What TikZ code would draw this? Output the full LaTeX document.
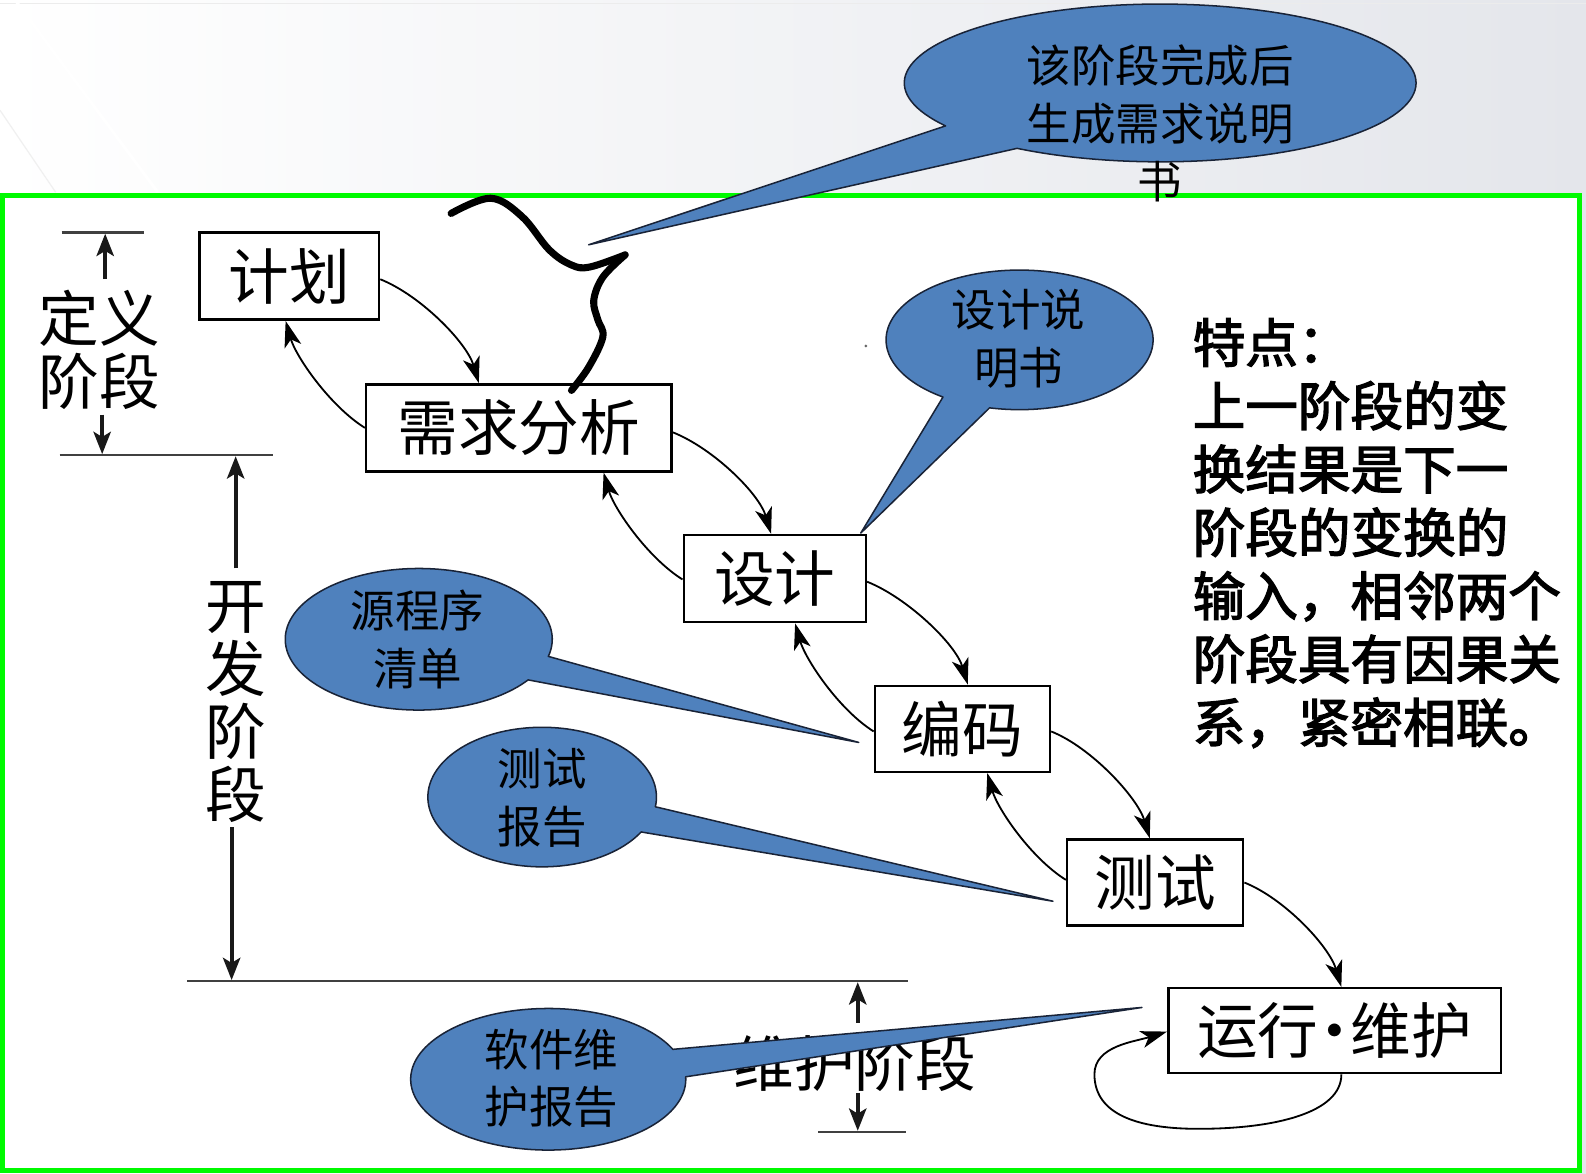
\documentclass[tikz,border=0pt]{standalone}
\usepackage{fontspec}
\setmainfont{Noto Sans CJK SC}
\newfontfamily\cjkbold[FakeBold=2.5]{Noto Sans CJK SC}
\usetikzlibrary{arrows.meta,calc}
\definecolor{calloutblue}{RGB}{79,129,189}
\definecolor{calloutedge}{RGB}{25,35,55}
\definecolor{framegreen}{RGB}{0,250,0}
\definecolor{bgright}{RGB}{228,230,235}
% cx cy rx ry start end tipx tipy
\newcommand{\mycallout}[8]{%
  \filldraw[calloutshape] (#7,#8) -- plot[domain=#5:#6, samples=140, variable=\t] ({#1+#3*cos(\t)},{#2+#4*sin(\t)}) -- cycle;}
\tikzset{
  stagebox/.style={draw=black, line width=2.5pt, fill=white, inner sep=0pt, font=\fontsize{60}{66}\selectfont},
  flow/.style={line width=1.8pt, -{Stealth[length=26pt,width=17pt,inset=7pt]}},
  dimarrow/.style={line width=4pt, draw=black!90, -{Stealth[length=22pt,width=17pt,inset=5pt]}},
  dimline/.style={line width=2.4pt, draw=black!75},
  calloutshape/.style={fill=calloutblue, draw=calloutedge, line width=1.5pt, line join=round},
  callouttext/.style={align=center, inner sep=0pt, font=\fontsize{44}{57}\selectfont},
  stagetext/.style={align=center, inner sep=0pt, font=\fontsize{60}{62}\selectfont},
}
\begin{document}
\begin{tikzpicture}[x=1pt, y=-1pt]
\useasboundingbox (0,0) rectangle (1568,1160);
% background
\shade[left color=white, right color=bgright] (0,0) rectangle (1568,1160);
\draw[gray!15, line width=1pt] (0,3) -- (1568,3);
\draw[white, line width=3pt] (15,0) -- (156,190);
\draw[gray!12, line width=1.2pt] (0,109) -- (55,190);
\fill[white] (2,193) rectangle (1562,1157);
\draw[framegreen, line width=5pt] (2.5,193) rectangle (1562,1157);

% dimension marks
\draw[dimline] (61,230) -- (142,230);
\draw[dimline] (59,450) -- (270,450);
\draw[dimline] (185,970) -- (898,970);
\draw[dimline] (809,1119) -- (896,1119);
\coordinate (d1a) at (104,276); \coordinate (d1b) at (104,231);
\coordinate (d1c) at (101,410); \coordinate (d1d) at (101,449);
\coordinate (d2a) at (233,562); \coordinate (d2b) at (233,451);
\coordinate (d2c) at (229,818); \coordinate (d2d) at (229,969);
\coordinate (d3a) at (848,1011); \coordinate (d3b) at (848,971);
\coordinate (d3c) at (848,1081); \coordinate (d3d) at (848,1118);
\draw[dimarrow] (d1a) -- (d1b);
\draw[dimarrow] (d1c) -- (d1d);
\draw[dimarrow] (d2a) -- (d2b);
\draw[dimarrow] (d2c) -- (d2d);
\draw[dimarrow] (d3a) -- (d3b);
\draw[dimarrow] (d3c) -- (d3d);
\node[stagetext] (dingyi) at (98,346) {定义\\阶段};
\node[stagetext] (kaifa) at (233,694) {开\\发\\阶\\段};
\node[stagetext] (weihu) at (845,1051) {维护阶段};

% stage boxes
\node[stagebox, minimum width=177.5pt, minimum height=86pt] (jh) at (286,273) {计划};
\node[stagebox, minimum width=302pt, minimum height=86pt] (xq) at (513,423) {需求分析};
\node[stagebox, minimum width=180pt, minimum height=86pt] (sj) at (766,572) {设计};
\node[stagebox, minimum width=173pt, minimum height=85pt] (bm) at (951.5,720.5) {编码};
\node[stagebox, minimum width=174pt, minimum height=85pt] (cs) at (1142,872.5) {测试};
\node[stagebox, minimum width=329pt, minimum height=84pt] (yx) at (1319.5,1019) {运行\kern-14pt·\kern-14pt维护};

% forward arrows
\draw[flow] ($(jh.north east)!0.535!(jh.south east)$) .. controls +(40,16) and +(-12,-40) .. ($(xq.north west)!0.37!(xq.north east)$);
\draw[flow] ($(xq.north east)!0.55!(xq.south east)$) .. controls +(40,16) and +(-12,-40) .. ($(sj.north west)!0.48!(sj.north east)$);
\draw[flow] ($(sj.north east)!0.535!(sj.south east)$) .. controls +(40,16) and +(-12,-40) .. ($(bm.north west)!0.53!(bm.north east)$);
\draw[flow] ($(bm.north east)!0.53!(bm.south east)$) .. controls +(40,16) and +(-12,-40) .. ($(cs.north west)!0.47!(cs.north east)$);
\draw[flow] ($(cs.north east)!0.5!(cs.south east)$) .. controls +(40,16) and +(-12,-40) .. ($(yx.north west)!0.52!(yx.north east)$);
% backward arrows
\draw[flow] ($(xq.north west)!0.5!(xq.south west)$) .. controls +(-35,-22) and +(10,35) .. ($(jh.south west)!0.48!(jh.south east)$);
\draw[flow] ($(sj.north west)!0.51!(sj.south west)$) .. controls +(-35,-22) and +(10,35) .. ($(xq.south west)!0.775!(xq.south east)$);
\draw[flow] ($(bm.north west)!0.53!(bm.south west)$) .. controls +(-35,-22) and +(10,35) .. ($(sj.south west)!0.61!(sj.south east)$);
\draw[flow] ($(cs.north west)!0.47!(cs.south west)$) .. controls +(-35,-22) and +(10,35) .. ($(bm.south west)!0.64!(bm.south east)$);
% self loop
\coordinate (loopb) at (1185,1116);
\coordinate (loopl) at (1082,1062);
\draw[flow] ($(yx.south west)!0.52!(yx.south east)$) .. controls +(0,38) and +(75,0) .. (loopb) .. controls +(-70,0) and +(0,35) .. (loopl) .. controls +(0,-28) and +(-32,10) .. ($(yx.north west)!0.51!(yx.south west)$);

% callouts
\mycallout{1147}{82}{253}{78}{147}{484}{582}{242}
\mycallout{1008}{336}{132}{69}{125}{463}{851}{527}
\mycallout{414}{632}{132}{70}{35}{374}{849}{734}
\mycallout{536}{788}{113}{69}{30}{368}{1041}{891}
\mycallout{542}{1067}{136}{70}{-2}{335}{1129}{996}
\node[callouttext] (c1) at (1147,122) {该阶段完成后\\生成需求说明\\书};
\node[callouttext] (c2) at (1007,335) {设计说\\明书};
\node[callouttext] (c3) at (413,632) {源程序\\清单};
\node[callouttext] (c4) at (536,789) {测试\\报告};
\node[callouttext] (c5) at (545,1066) {软件维\\护报告};

% brace-like stroke
\draw[line width=7pt, line cap=round, line join=round] plot[smooth, tension=0.6] coordinates {(446,211) (485,196) (516,214) (543,247) (565,262) (583,264) (618,252)};
\draw[line width=7pt, line cap=round, line join=round] plot[smooth, tension=0.6] coordinates {(618,252) (596,274) (587,297) (591,316) (596,333) (582,363) (565,386)};
\fill[black!60] (856,342) circle (1.5);

% feature text
\node[anchor=west, align=left, inner sep=0pt, font=\cjkbold\fontsize{52}{62.6}\selectfont] (feat) at (1179,527)
 {特点：\\上一阶段的变\\换结果是下一\\阶段的变换的\\输入，相邻两个\\阶段具有因果关\\系，紧密相联。};
\end{tikzpicture}
\end{document}
